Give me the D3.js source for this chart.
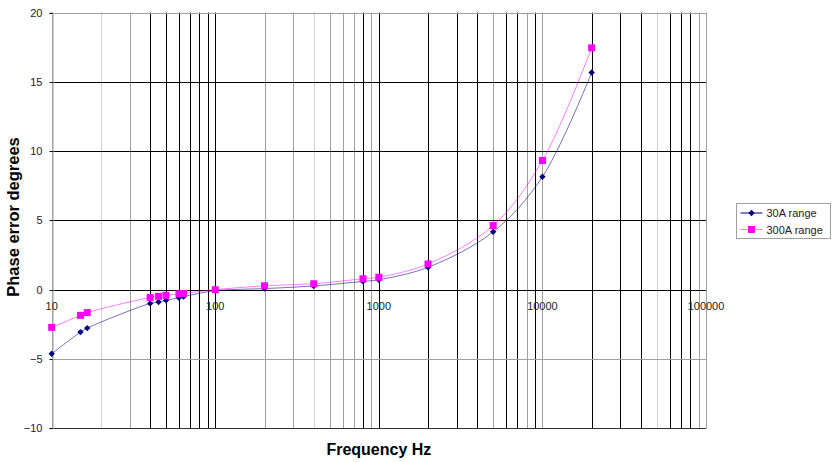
<!DOCTYPE html>
<html>
<head>
<meta charset="utf-8">
<script src="https://cdn.jsdelivr.net/npm/d3@7"></script>
<style>
  body{margin:0;background:#fff;}
  svg{display:block;font-family:"Liberation Sans",Arial,sans-serif;}
</style>
</head>
<body>
<svg id="chart" width="838" height="462"></svg>
<script>
'use strict';

/* ── data ─────────────────────────────────────────── */
const FREQ   = [10, 15, 16.5, 40, 45, 50, 60, 64, 100, 200, 400, 800, 1000, 2000, 5000, 10000, 20000];
const RANGE30  = [-4.62, -3.06, -2.77, -0.99, -0.89, -0.77, -0.58, -0.5, -0.07, 0.08, 0.27, 0.6, 0.72, 1.62, 4.18, 8.15, 15.67];
const RANGE300 = [-2.72, -1.85, -1.65, -0.56, -0.48, -0.41, -0.3, -0.27, 0.0, 0.28, 0.43, 0.79, 0.9, 1.86, 4.63, 9.32, 17.45];
const SERIES_NAMES = ['30A range', '300A range'];
const Y_TICKS = [-10, -5, 0, 5, 10, 15, 20];
const X_LABELS = [10, 100, 1000, 10000, 100000];

/* gridline shades (the reference renders some minor lines dark, some grey) */
const DARK_X  = [40,50,60,70,80,90,100,800,1000,2000,3000,4000,6000,7000,9000,20000,30000,40000,60000,70000,80000];
const LIGHT_X = [20,400,50000];
const DARK_Y  = [0,5,10,15];

/* ── layout ───────────────────────────────────────── */
const svg = d3.select('#chart');
const L = 51.7, R = 706, T = 12.5, B = 428.3;

const x = d3.scaleLog().domain([10, 100000]).range([L, R]);
const y = d3.scaleLinear().domain([-10, 20]).range([B, T]);
const px = v => Math.round(v) + 0.5;

/* vertical grid */
const xGrid = [];
for (let d = 10; d < 100000; d *= 10) for (let k = 1; k <= 10; k++) xGrid.push(d * k);
const xg = [...new Set(xGrid)];

svg.append('g').selectAll('line').data(xg).join('line')
  .attr('x1', d => px(x(d))).attr('x2', d => px(x(d)))
  .attr('y1', T).attr('y2', B)
  .attr('stroke', d => DARK_X.includes(d) ? '#000' : LIGHT_X.includes(d) ? '#d0d0d0' : '#a0a0a0')
  .attr('stroke-width', 1);

/* horizontal grid */
svg.append('g').selectAll('line').data(Y_TICKS).join('line')
  .attr('x1', L).attr('x2', R)
  .attr('y1', d => px(y(d))).attr('y2', d => px(y(d)))
  .attr('stroke', d => DARK_Y.includes(d) ? '#000' : d === -10 ? '#333' : '#a0a0a0')
  .attr('stroke-width', 1);

/* left axis */
const yAxis = d3.axisLeft(y).tickValues(Y_TICKS).tickSize(3).tickPadding(7);
const ya = svg.append('g').attr('transform', `translate(${px(L)},0)`).call(yAxis);
ya.select('.domain').attr('stroke', '#a0a0a0');
ya.selectAll('.tick line').attr('stroke', '#000');
ya.selectAll('.tick').attr('transform', d => `translate(0,${px(y(d))})`);
ya.selectAll('text').attr('font-size', 11).attr('fill', '#222').attr('font-family', '"Liberation Sans",Arial,sans-serif');

/* x labels at the zero line */
svg.append('g').selectAll('text').data(X_LABELS).join('text')
  .attr('x', d => x(d)).attr('y', y(0) + 20)
  .attr('text-anchor', 'middle')
  .attr('font-size', 11).attr('fill', '#222')
  .text(d => d);

/* series */
const line = d3.line().curve(d3.curveCatmullRom.alpha(0.5))
  .x(d => x(d[0])).y(d => y(d[1]));

const s30 = FREQ.map((f, i) => [f, RANGE30[i]]);
const s300 = FREQ.map((f, i) => [f, RANGE300[i]]);

svg.append('path').datum(s30).attr('d', line)
  .attr('fill', 'none').attr('stroke', '#000080').attr('stroke-opacity', 0.55).attr('stroke-width', 1);
svg.append('path').datum(s300).attr('d', line)
  .attr('fill', 'none').attr('stroke', '#ff00ff').attr('stroke-opacity', 0.5).attr('stroke-width', 1);

const diamond = d3.symbol().type(d3.symbolDiamond2).size(26);
svg.append('g').selectAll('path').data(s30).join('path')
  .attr('d', diamond)
  .attr('transform', d => `translate(${x(d[0])},${y(d[1])})`)
  .attr('fill', '#000080');

svg.append('g').selectAll('rect').data(s300).join('rect')
  .attr('x', d => x(d[0]) - 3.5).attr('y', d => y(d[1]) - 3.5)
  .attr('width', 7).attr('height', 7)
  .attr('fill', '#ff00ff');

/* axis titles */
svg.append('text')
  .attr('x', (L + R) / 2).attr('y', 455)
  .attr('text-anchor', 'middle')
  .attr('font-size', 16).attr('font-weight', 'bold')
  .text('Frequency Hz');

svg.append('text')
  .attr('transform', 'translate(19,217) rotate(-90)')
  .attr('text-anchor', 'middle')
  .attr('font-size', 16.5).attr('font-weight', 'bold')
  .text('Phase error degrees');

/* legend */
const lg = svg.append('g').attr('transform', 'translate(736.5,203.5)');
lg.append('rect').attr('width', 94).attr('height', 35)
  .attr('fill', '#fff').attr('stroke', '#a0a0a0');

const rows = lg.selectAll('g.row').data(SERIES_NAMES).join('g')
  .attr('class', 'row')
  .attr('transform', (d, i) => `translate(0,${9.5 + i * 16.5})`);

rows.append('line').attr('x1', 4).attr('x2', 26).attr('y1', 0).attr('y2', 0)
  .attr('stroke', (d, i) => i === 0 ? '#000080' : '#ff80ff');
rows.filter((d, i) => i === 0).append('path')
  .attr('d', diamond).attr('transform', 'translate(15,0)').attr('fill', '#000080');
rows.filter((d, i) => i === 1).append('rect')
  .attr('x', 11.5).attr('y', -3.5).attr('width', 7).attr('height', 7).attr('fill', '#ff00ff');
rows.append('text').attr('x', 30).attr('y', 4)
  .attr('font-size', 11).attr('fill', '#222')
  .text(d => d);
</script>
</body>
</html>
